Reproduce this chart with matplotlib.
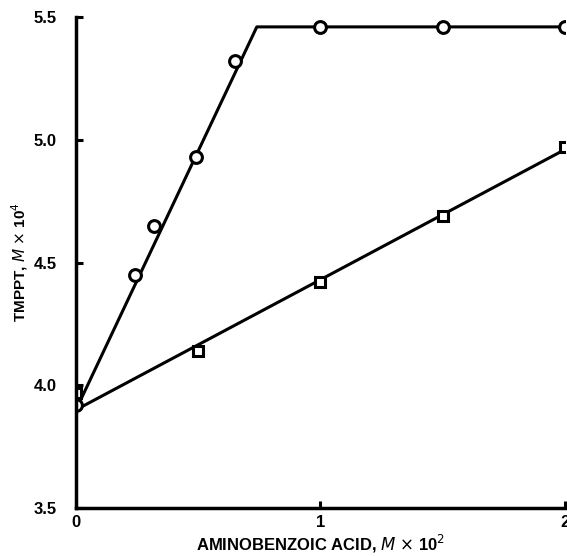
import numpy as np
import matplotlib.pyplot as plt

plt.rcParams['font.family'] = ['Liberation Sans', 'DejaVu Sans']

# circle series
circ_x = [0.0, 0.24, 0.32, 0.49, 0.65, 1.0, 1.5, 2.0]
circ_y = [3.92, 4.45, 4.65, 4.93, 5.32, 5.46, 5.46, 5.46]
circ_line_x = [0.0, 0.74, 2.0]
circ_line_y = [3.9, 5.46, 5.46]

# square series
sq_x = [0.0, 0.5, 1.0, 1.5, 2.0]
sq_y = [3.97, 4.14, 4.42, 4.69, 4.97]
sq_line_x = [0.0, 2.0]
sq_line_y = [3.9, 4.96]

xticks = [0, 1, 2]
yticks = [3.5, 4.0, 4.5, 5.0, 5.5]

fig = plt.figure(figsize=(5.67, 5.56), dpi=100)
ax = fig.add_axes([0.134, 0.0863, 0.862, 0.883])

ax.plot(circ_line_x, circ_line_y, 'k-', lw=2.2, zorder=2)
ax.plot(sq_line_x, sq_line_y, 'k-', lw=2.2, zorder=2)
ax.plot(circ_x, circ_y, 'o', ms=8.5, mfc='white', mec='k', mew=2.2, ls='none', zorder=3)
ax.plot(sq_x, sq_y, 's', ms=7.5, mfc='white', mec='k', mew=2.2, ls='none', zorder=3)

ax.set_xlim(0, 2)
ax.set_ylim(3.5, 5.5)
ax.set_xticks(xticks)
ax.set_xticklabels(['0', '1', '2'])
ax.set_yticks(yticks)
ax.set_yticklabels(['%.1f' % v for v in yticks])

ax.spines['top'].set_visible(False)
ax.spines['right'].set_visible(False)
ax.spines['left'].set_linewidth(2.5)
ax.spines['bottom'].set_linewidth(2.5)
ax.spines['left'].set_zorder(4)
ax.tick_params(direction='in', length=5, width=2.2, labelsize=12)
ax.tick_params(axis='y', pad=14)
ax.tick_params(axis='x', pad=5)
for lab in ax.get_xticklabels() + ax.get_yticklabels():
    lab.set_fontweight('bold')

ax.set_xlabel(r'AMINOBENZOIC ACID, $\mathit{M}$ $\times$ 10$^{2}$', fontsize=12, fontweight='bold', labelpad=2)
ax.set_ylabel(r'TMPPT, $\mathit{M}$ $\times$ 10$^{4}$', fontsize=11, fontweight='bold')
ax.yaxis.set_label_coords(-0.094, 0.5)

fig.savefig('out.png', dpi=100)
